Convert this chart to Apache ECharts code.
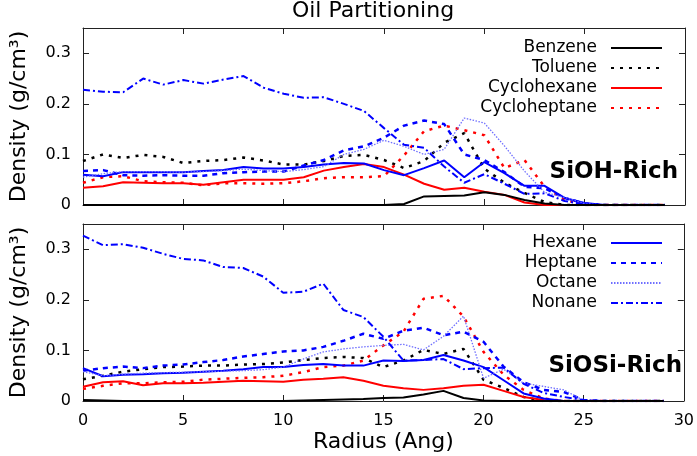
<!DOCTYPE html>
<html>
<head>
<meta charset="utf-8">
<script src="https://cdn.jsdelivr.net/npm/echarts@6/dist/echarts.min.js"></script>
<style>
    html, body { margin: 0; padding: 0; background: #fff; }
    #chart { width: 697px; height: 456px; }
</style>
</head>
<body>
<div id="chart"></div>
<script>
    // radius values (Ang)
    var radius = [0, 1, 2, 3, 4, 5, 6, 7, 8, 9, 10, 11, 12, 13, 14, 15, 16, 17, 18, 19, 20, 21, 22, 23, 24, 25, 26, 27, 28, 29];

    // SiOH-Rich panel
    var siohBenzene = [0, 0, 0, 0, 0, 0, 0, 0, 0, 0, 0, 0, 0, 0, 0, 0, 0.002, 0.017, 0.018, 0.019, 0.025, 0.02, 0.01, 0.003, 0, 0, 0, 0, 0, 0];
    var siohToluene = [0.087, 0.1, 0.093, 0.099, 0.095, 0.083, 0.087, 0.089, 0.094, 0.088, 0.08, 0.08, 0.087, 0.097, 0.099, 0.089, 0.073, 0.087, 0.123, 0.142, 0.072, 0.044, 0.024, 0.006, 0, 0, 0, 0, 0, 0];
    var siohCyclohexane = [0.034, 0.037, 0.045, 0.044, 0.043, 0.043, 0.04, 0.045, 0.05, 0.05, 0.05, 0.055, 0.068, 0.075, 0.081, 0.075, 0.06, 0.042, 0.03, 0.034, 0.026, 0.02, 0.005, 0, 0, 0, 0, 0, 0, 0];
    var siohCycloheptane = [0.044, 0.055, 0.057, 0.047, 0.045, 0.044, 0.039, 0.043, 0.043, 0.042, 0.043, 0.047, 0.053, 0.055, 0.055, 0.057, 0.098, 0.146, 0.157, 0.148, 0.138, 0.073, 0.089, 0.036, 0.01, 0, 0, 0, 0, 0];
    var siohHexane = [0.06, 0.057, 0.065, 0.065, 0.065, 0.065, 0.067, 0.069, 0.075, 0.072, 0.072, 0.075, 0.08, 0.083, 0.082, 0.069, 0.059, 0.073, 0.088, 0.055, 0.085, 0.063, 0.038, 0.038, 0.014, 0.004, 0, 0, 0, 0];
    var siohHeptane = [0.067, 0.069, 0.059, 0.058, 0.059, 0.058, 0.058, 0.063, 0.065, 0.066, 0.066, 0.078, 0.089, 0.108, 0.116, 0.133, 0.157, 0.167, 0.16, 0.1, 0.089, 0.065, 0.036, 0.033, 0.014, 0.003, 0, 0, 0, 0];
    var siohOctane = [0.055, 0.062, 0.066, 0.066, 0.066, 0.065, 0.066, 0.068, 0.071, 0.068, 0.066, 0.07, 0.076, 0.1, 0.11, 0.128, 0.116, 0.1, 0.11, 0.172, 0.162, 0.117, 0.067, 0.025, 0.015, 0.003, 0, 0, 0, 0];
    var siohNonane = [0.228, 0.224, 0.223, 0.25, 0.238, 0.247, 0.24, 0.248, 0.255, 0.232, 0.22, 0.212, 0.213, 0.2, 0.186, 0.152, 0.119, 0.113, 0.076, 0.044, 0.061, 0.042, 0.022, 0.023, 0.008, 0.001, 0, 0, 0, 0];

    // SiOSi-Rich panel
    var siosiBenzene = [0.002, 0.001, 0, 0, 0, 0, 0, 0, 0, 0, 0, 0.001, 0.002, 0.003, 0.004, 0.006, 0.007, 0.013, 0.02, 0.006, 0.001, 0, 0, 0, 0, 0, 0, 0, 0, 0];
    var siosiToluene = [0.043, 0.05, 0.058, 0.063, 0.067, 0.068, 0.07, 0.07, 0.072, 0.073, 0.076, 0.081, 0.085, 0.087, 0.085, 0.067, 0.08, 0.101, 0.093, 0.103, 0.042, 0.026, 0.008, 0, 0, 0, 0, 0, 0, 0];
    var siosiCyclohexane = [0.028, 0.037, 0.039, 0.031, 0.035, 0.035, 0.036, 0.038, 0.04, 0.039, 0.038, 0.042, 0.044, 0.047, 0.04, 0.03, 0.025, 0.022, 0.025, 0.03, 0.032, 0.02, 0.008, 0.002, 0, 0, 0, 0, 0, 0];
    var siosiCycloheptane = [0.024, 0.03, 0.035, 0.035, 0.037, 0.038, 0.042, 0.044, 0.046, 0.047, 0.05, 0.057, 0.067, 0.07, 0.08, 0.11, 0.137, 0.202, 0.208, 0.167, 0.097, 0.052, 0.022, 0.005, 0, 0, 0, 0, 0, 0];
    var siosiHexane = [0.065, 0.049, 0.052, 0.053, 0.055, 0.056, 0.058, 0.06, 0.063, 0.067, 0.067, 0.071, 0.073, 0.07, 0.07, 0.08, 0.079, 0.081, 0.091, 0.08, 0.067, 0.041, 0.015, 0.005, 0, 0, 0, 0, 0, 0];
    var siosiHeptane = [0.06, 0.065, 0.068, 0.065, 0.07, 0.072, 0.077, 0.081, 0.088, 0.093, 0.098, 0.1, 0.107, 0.119, 0.133, 0.123, 0.139, 0.145, 0.13, 0.137, 0.117, 0.068, 0.037, 0.022, 0.018, 0.002, 0, 0, 0, 0];
    var siosiOctane = [0.058, 0.05, 0.053, 0.055, 0.056, 0.057, 0.058, 0.059, 0.06, 0.062, 0.067, 0.083, 0.097, 0.103, 0.107, 0.11, 0.112, 0.101, 0.128, 0.168, 0.045, 0.063, 0.035, 0.029, 0.022, 0.001, 0, 0, 0, 0];
    var siosiNonane = [0.327, 0.308, 0.31, 0.303, 0.291, 0.281, 0.278, 0.265, 0.263, 0.246, 0.214, 0.216, 0.232, 0.18, 0.166, 0.127, 0.08, 0.081, 0.083, 0.063, 0.065, 0.066, 0.034, 0.016, 0.008, 0.002, 0, 0, 0, 0];

    var topLegend = ['Benzene', 'Toluene', 'Cyclohexane', 'Cycloheptane'];
    var bottomLegend = ['Hexane', 'Heptane', 'Octane', 'Nonane'];
    var yTicks = [0, 0.1, 0.2, 0.3];

    // line look for each oil
    var styles = {
        Benzene:      {color: '#000000', width: 2, type: 'solid'},
        Toluene:      {color: '#000000', width: 2.5, type: [3, 6]},
        Cyclohexane:  {color: '#ff0000', width: 2, type: 'solid'},
        Cycloheptane: {color: '#ff0000', width: 2.5, type: [3, 6]},
        Hexane:       {color: '#0000ff', width: 2, type: 'solid'},
        Heptane:      {color: '#0000ff', width: 2.5, type: [5, 5]},
        Octane:       {color: '#6f6fff', width: 1.3, type: [1.5, 1.5]},
        Nonane:       {color: '#0000ff', width: 2, type: [7, 3, 2, 3]}
    };

    var panels = [
        {
            Benzene: siohBenzene, Toluene: siohToluene, Cyclohexane: siohCyclohexane, Cycloheptane: siohCycloheptane,
            Hexane: siohHexane, Heptane: siohHeptane, Octane: siohOctane, Nonane: siohNonane
        },
        {
            Benzene: siosiBenzene, Toluene: siosiToluene, Cyclohexane: siosiCyclohexane, Cycloheptane: siosiCycloheptane,
            Hexane: siosiHexane, Heptane: siosiHeptane, Octane: siosiOctane, Nonane: siosiNonane
        }
    ];

    var order = ['Benzene', 'Toluene', 'Cyclohexane', 'Cycloheptane', 'Hexane', 'Heptane', 'Octane', 'Nonane'];

    function pairs(values) {
        return radius.map(function (r, i) { return [r, values[i]]; });
    }

    var series = [];
    panels.forEach(function (panel, p) {
        order.forEach(function (name) {
            var s = styles[name];
            series.push({
                name: name,
                type: 'line',
                xAxisIndex: p,
                yAxisIndex: p,
                data: pairs(panel[name]),
                symbol: 'none',
                silent: true,
                animation: false,
                z: name === 'Benzene' ? 3 : 2,
                lineStyle: {color: s.color, width: s.width, type: s.type, cap: 'butt'},
                itemStyle: {color: s.color}
            });
        });
    });

    var axisColor = '#222';
    var fontFamily = 'DejaVu Sans';

    function xAxis(grid, position, showLabel, name) {
        return {
            type: 'value', gridIndex: grid, position: position,
            min: 0, max: 30, interval: 5,
            name: name || '', nameLocation: 'middle', nameGap: 30,
            nameTextStyle: {fontSize: 22, color: '#000', fontFamily: fontFamily},
            axisLine: {show: true, onZero: false, lineStyle: {color: axisColor, width: 1}},
            axisTick: {show: true, inside: true, length: 6, lineStyle: {color: axisColor}},
            axisLabel: {show: showLabel, fontSize: 16, color: '#000', margin: 12, fontFamily: fontFamily},
            splitLine: {show: false}
        };
    }

    function yAxis(grid, position, showLabel, name) {
        return {
            type: 'value', gridIndex: grid, position: position,
            min: 0, max: 0.35, interval: 0.1,
            name: name || '', nameLocation: 'middle', nameGap: 53,
            nameTextStyle: {fontSize: 22, color: '#000', fontFamily: fontFamily},
            axisLine: {show: true, onZero: false, lineStyle: {color: axisColor, width: 1}},
            axisTick: {show: true, inside: true, length: 6, lineStyle: {color: axisColor}},
            axisLabel: {
                show: showLabel, fontSize: 16, color: '#000', margin: 12, fontFamily: fontFamily,
                showMaxLabel: false,
                formatter: function (v) {
                    var t = yTicks.filter(function (k) { return Math.abs(k - v) < 1e-9; });
                    return t.length ? String(t[0]) : '';
                }
            },
            splitLine: {show: false}
        };
    }

    function legend(names, top) {
        return {
            data: names, orient: 'vertical', align: 'right',
            right: 29, top: top, itemWidth: 51, itemHeight: 14, itemGap: 0,
            selectedMode: false,
            itemStyle: {opacity: 0},
            textStyle: {fontSize: 17, color: '#000', fontFamily: fontFamily, lineHeight: 20, padding: [0, 9, 0, 0]}
        };
    }

    var yName = 'Density (g/cm³)';

    var chart = echarts.init(document.getElementById('chart'), null, {renderer: 'canvas'});
    chart.setOption({
        backgroundColor: '#fff',
        animation: false,
        grid: [
            {left: 80, right: 12, top: 28, height: 177},
            {left: 80, right: 12, top: 224, height: 177}
        ],
        xAxis: [
            xAxis(0, 'bottom', false),
            xAxis(1, 'bottom', true, 'Radius (Ang)'),
            xAxis(0, 'top', false),
            xAxis(1, 'top', false)
        ],
        yAxis: [
            yAxis(0, 'left', true, yName),
            yAxis(1, 'left', true, yName),
            yAxis(0, 'right', false),
            yAxis(1, 'right', false)
        ],
        legend: [legend(topLegend, 33), legend(bottomLegend, 228)],
        graphic: [
            {
                type: 'text', x: 373, y: 0,
                style: {text: 'Oil Partitioning', fontSize: 22, fill: '#000', fontFamily: fontFamily, align: 'center', verticalAlign: 'top'}
            },
            {
                type: 'text', right: 19, top: 161,
                style: {text: 'SiOH-Rich', fontSize: 23, fontWeight: 'bold', fill: '#000', fontFamily: fontFamily}
            },
            {
                type: 'text', right: 15, top: 355,
                style: {text: 'SiOSi-Rich', fontSize: 23, fontWeight: 'bold', fill: '#000', fontFamily: fontFamily}
            }
        ],
        series: series
    });
</script>
</body>
</html>
